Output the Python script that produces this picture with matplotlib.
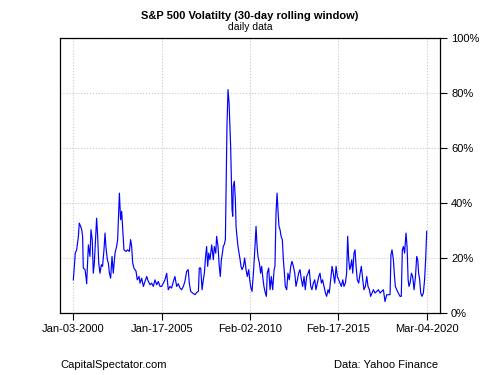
import matplotlib
matplotlib.use("Agg")
import matplotlib.pyplot as plt

plt.rcParams['font.family'] = ['Liberation Sans', 'DejaVu Sans']

# decimal years and 30-day rolling volatility (%)
years = [
    2000.00, 2000.06, 2000.11, 2000.19, 2000.29, 2000.34, 2000.42, 2000.48, 2000.53, 2000.57,
    2000.67, 2000.72, 2000.76, 2000.86, 2000.95, 2001.01, 2001.08, 2001.14, 2001.20, 2001.29,
    2001.33, 2001.39, 2001.45, 2001.52, 2001.60, 2001.67, 2001.75, 2001.81, 2001.86, 2001.94,
    2002.00, 2002.06, 2002.13, 2002.21, 2002.28, 2002.38, 2002.47, 2002.53, 2002.63, 2002.70,
    2002.76, 2002.82, 2002.89, 2003.01, 2003.10, 2003.20, 2003.27, 2003.33, 2003.39, 2003.46,
    2003.58, 2003.65, 2003.75, 2003.81, 2003.90, 2004.00, 2004.09, 2004.19, 2004.28, 2004.38,
    2004.47, 2004.57, 2004.66, 2004.76, 2004.85, 2004.95, 2005.04, 2005.14, 2005.23, 2005.33,
    2005.42, 2005.52, 2005.61, 2005.71, 2005.80, 2005.90, 2005.99, 2006.09, 2006.18, 2006.28,
    2006.37, 2006.47, 2006.56, 2006.62, 2006.70, 2006.81, 2006.95, 2007.04, 2007.14, 2007.19,
    2007.27, 2007.35, 2007.42, 2007.48, 2007.55, 2007.61, 2007.67, 2007.73, 2007.80, 2007.90,
    2007.95, 2007.99, 2008.05, 2008.13, 2008.18, 2008.26, 2008.33, 2008.39, 2008.45, 2008.51,
    2008.56, 2008.62, 2008.68, 2008.72, 2008.77, 2008.83, 2008.89, 2008.94, 2008.98, 2009.02,
    2009.06, 2009.10, 2009.13, 2009.19, 2009.25, 2009.29, 2009.34, 2009.40, 2009.46, 2009.52,
    2009.57, 2009.63, 2009.71, 2009.78, 2009.86, 2009.93, 2010.01, 2010.07, 2010.12, 2010.20,
    2010.28, 2010.37, 2010.43, 2010.49, 2010.54, 2010.62, 2010.69, 2010.75, 2010.81, 2010.88,
    2010.96, 2011.02, 2011.07, 2011.15, 2011.23, 2011.30, 2011.38, 2011.46, 2011.51, 2011.57,
    2011.63, 2011.68, 2011.74, 2011.80, 2011.86, 2011.93, 2011.99, 2012.05, 2012.10, 2012.18,
    2012.25, 2012.33, 2012.41, 2012.48, 2012.56, 2012.64, 2012.71, 2012.79, 2012.86, 2012.94,
    2013.02, 2013.09, 2013.17, 2013.24, 2013.32, 2013.40, 2013.47, 2013.55, 2013.62, 2013.70,
    2013.78, 2013.85, 2013.93, 2014.01, 2014.08, 2014.16, 2014.23, 2014.31, 2014.39, 2014.46,
    2014.54, 2014.61, 2014.69, 2014.77, 2014.84, 2014.92, 2015.00, 2015.07, 2015.15, 2015.22,
    2015.30, 2015.38, 2015.45, 2015.53, 2015.60, 2015.66, 2015.72, 2015.78, 2015.83, 2015.89,
    2015.95, 2016.02, 2016.08, 2016.14, 2016.21, 2016.29, 2016.37, 2016.44, 2016.52, 2016.59,
    2016.67, 2016.75, 2016.82, 2016.90, 2016.97, 2017.05, 2017.13, 2017.22, 2017.32, 2017.41,
    2017.51, 2017.60, 2017.70, 2017.79, 2017.89, 2017.98, 2018.08, 2018.13, 2018.19, 2018.27,
    2018.32, 2018.38, 2018.46, 2018.55, 2018.65, 2018.72, 2018.78, 2018.84, 2018.91, 2018.99,
    2019.05, 2019.11, 2019.16, 2019.22, 2019.30, 2019.37, 2019.45, 2019.53, 2019.60, 2019.66,
    2019.71, 2019.77, 2019.83, 2019.90, 2019.98, 2020.05, 2020.11, 2020.17,
]
vol = [
    12.1, 17.0, 21.8, 23.0, 27.9, 32.7, 31.5, 30.3, 27.9, 16.4,
    15.8, 13.3, 10.7, 24.8, 20.6, 30.3, 26.7, 14.5, 18.2, 29.1,
    34.5, 27.9, 18.2, 14.5, 17.6, 17.0, 23.0, 29.1, 24.2, 19.4,
    18.2, 14.5, 12.7, 20.6, 14.5, 21.8, 24.2, 26.7, 43.6, 33.9,
    37.0, 30.3, 23.0, 22.4, 23.0, 22.4, 26.7, 24.2, 18.2, 16.4,
    15.2, 12.1, 13.3, 10.9, 12.7, 9.7, 11.5, 13.3, 11.5, 10.3,
    10.9, 9.7, 12.1, 10.3, 11.5, 9.7, 9.7, 10.9, 12.1, 14.5,
    8.5, 9.7, 9.1, 11.5, 13.3, 9.7, 10.7, 9.1, 8.5, 9.7,
    11.5, 15.2, 15.8, 10.9, 7.9, 7.3, 6.7, 7.5, 7.9, 16.4,
    16.4, 8.5, 12.1, 14.5, 20.6, 24.2, 17.0, 21.8, 19.4, 24.8,
    21.8, 19.4, 24.2, 21.8, 27.9, 24.2, 17.0, 13.3, 19.4, 21.8,
    24.2, 25.0, 26.7, 46.1, 67.9, 81.2, 76.4, 67.9, 60.6, 48.5,
    37.6, 35.2, 46.1, 47.9, 41.2, 31.5, 27.9, 24.2, 21.8, 19.4,
    17.0, 15.8, 17.0, 20.0, 15.8, 13.3, 15.8, 12.1, 9.7, 7.9,
    14.5, 24.2, 31.5, 24.2, 20.6, 18.2, 14.5, 17.0, 13.3, 9.7,
    7.3, 6.1, 14.5, 16.4, 8.5, 13.3, 8.5, 15.8, 17.0, 36.4,
    43.6, 37.6, 31.5, 30.3, 27.9, 26.7, 19.4, 14.5, 9.7, 8.5,
    14.5, 12.1, 17.0, 18.8, 17.0, 14.5, 9.7, 12.1, 14.5, 15.8,
    12.1, 9.7, 13.3, 8.5, 13.3, 14.5, 15.8, 9.7, 8.5, 10.9,
    12.1, 8.5, 10.9, 13.3, 14.5, 10.9, 12.1, 9.7, 7.3, 6.1,
    8.5, 7.3, 12.1, 17.0, 14.5, 10.9, 17.0, 13.3, 12.1, 10.9,
    9.7, 12.1, 9.7, 10.9, 14.5, 27.9, 19.4, 15.8, 17.0, 19.4,
    14.5, 21.8, 23.0, 17.0, 12.1, 10.9, 14.5, 17.0, 12.1, 8.5,
    9.7, 13.3, 9.7, 8.5, 6.1, 7.3, 8.5, 7.3, 7.9, 8.5,
    7.3, 7.9, 8.5, 4.2, 6.7, 6.7, 6.7, 21.2, 23.0, 19.4,
    14.5, 9.7, 8.5, 7.3, 6.1, 6.1, 23.0, 24.2, 21.8, 29.1,
    24.2, 12.1, 9.7, 10.9, 14.5, 13.3, 8.5, 13.3, 20.6, 19.4,
    14.5, 12.1, 7.3, 6.1, 7.3, 12.1, 19.4, 29.7,
]

tick_years = [2000.0, 2005.04, 2010.09, 2015.13, 2020.17]
tick_labels = ["Jan-03-2000", "Jan-17-2005", "Feb-02-2010", "Feb-17-2015", "Mar-04-2020"]
y_ticks = [0, 20, 40, 60, 80, 100]

fig = plt.figure(figsize=(5, 3.75), dpi=100)
ax = fig.add_axes([0.12, 0.165, 0.76, 0.734])

ax.plot(years, vol, color='#0000FF', linewidth=0.85)

ax.set_xlim(1999.24, 2020.93)
ax.set_ylim(0, 100)
ax.set_xticks(tick_years)
ax.set_xticklabels(tick_labels)
ax.set_yticks(y_ticks)
ax.set_yticklabels([f"{v}%" for v in y_ticks])
ax.yaxis.tick_right()
ax.tick_params(axis='both', direction='out', length=5, width=0.8, labelsize=8,
               colors='black', pad=3)
ax.tick_params(axis='y', left=False)

ax.grid(True, color='#c8c8c8', linestyle=':', linewidth=0.8)
for s in ax.spines.values():
    s.set_linewidth(0.9)
    s.set_color('black')

fig.text(0.5, 0.958, "S&P 500 Volatilty (30-day rolling window)", ha='center', va='center',
         fontsize=8, fontweight='bold')
fig.text(0.5, 0.927, "daily data", ha='center', va='center', fontsize=7.5)
fig.text(0.12, 0.027, "CapitalSpectator.com", ha='left', va='center', fontsize=8)
fig.text(0.876, 0.027, "Data: Yahoo Finance", ha='right', va='center', fontsize=8)

fig.savefig("out.png", dpi=100)
